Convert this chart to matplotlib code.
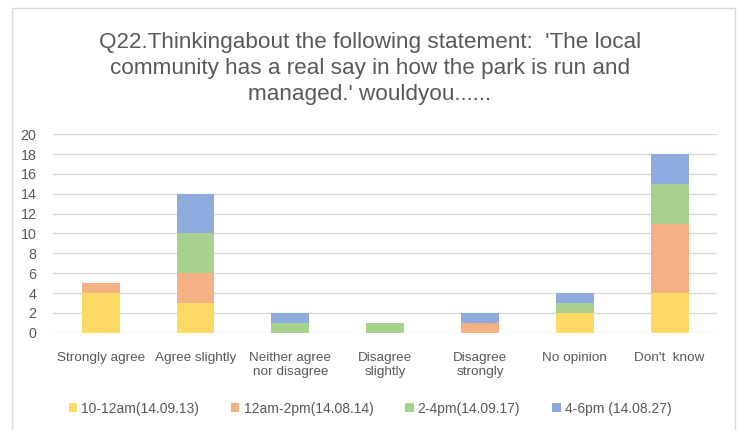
import matplotlib.pyplot as plt
import numpy as np
from matplotlib.patches import Rectangle

plt.rcParams['font.family'] = ['Liberation Sans Narrow', 'Liberation Sans', 'DejaVu Sans']

categories = ["Strongly agree", "Agree slightly", "Neither agree\nnor disagree",
              "Disagree\nslightly", "Disagree\nstrongly", "No opinion", "Don't  know"]
series_names = ["10-12am(14.09.13)", "12am-2pm(14.08.14)", "2-4pm(14.09.17)", "4-6pm (14.08.27)"]
s1 = [4, 3, 0, 0, 0, 2, 4]
s2 = [1, 3, 0, 0, 1, 0, 7]
s3 = [0, 4, 1, 1, 0, 1, 4]
s4 = [0, 4, 1, 0, 1, 1, 3]
colors = ["#FFD966", "#F4B183", "#A9D18E", "#8FAADC"]

fig = plt.figure(figsize=(7.4, 4.3), dpi=100)
fig.patches.append(Rectangle((12 / 740, -0.05), 723 / 740, 1 - 8 / 430 + 0.05,
                             transform=fig.transFigure, fill=False,
                             edgecolor="#D9D9D9", lw=1))
ax = fig.add_axes([0.072, 0.226, 0.897, 0.462])

x = np.arange(len(categories))
bottom = np.zeros(len(categories))
for vals, c, name in zip([s1, s2, s3, s4], colors, series_names):
    ax.bar(x, vals, 0.4, bottom=bottom, color=c, label=name, zorder=3)
    bottom += np.array(vals)

ax.set_xlim(-0.5, 6.5)
ax.set_ylim(0, 20)
ax.set_yticks(range(0, 21, 2))
ax.grid(axis='y', color="#D9D9D9", lw=1, zorder=0)
for s in ax.spines.values():
    s.set_visible(False)
ax.tick_params(axis='both', length=0, labelsize=9.7, colors="#595959")
ax.set_xticks(x)
ax.set_xticklabels(categories, fontsize=9.7)
ax.tick_params(axis='x', pad=14)
ax.tick_params(axis='y', pad=12, labelsize=10.3)

fig.text(0.5, 0.840, "Q22.Thinkingabout the following statement:  'The local\n"
         "community has a real say in how the park is run and\n"
         "managed.' wouldyou......", ha='center', va='center',
         fontsize=16.2, color="#595959", linespacing=1.32)

fig.legend(loc='center', bbox_to_anchor=(0.5, 0.05), ncol=4, frameon=False,
           fontsize=10, handlelength=0.6, handleheight=0.6, handletextpad=0.3,
           columnspacing=2.3, labelcolor="#595959")

fig.savefig("out.png", dpi=100)
